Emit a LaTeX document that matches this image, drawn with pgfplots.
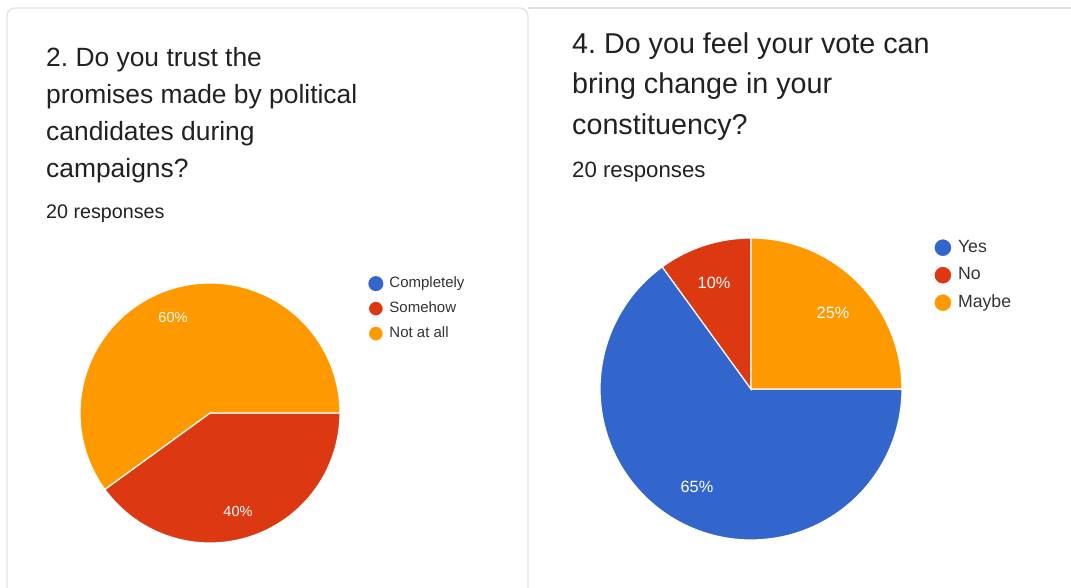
\documentclass[border=0pt]{standalone}
\usepackage{pgfplots}
\pgfplotsset{compat=1.18}
\usepackage{fontspec}
\setmainfont{Liberation Sans}
\frenchspacing
\definecolor{gblue}{HTML}{3366CC}
\definecolor{gred}{HTML}{DC3912}
\definecolor{gorange}{HTML}{FF9900}
\definecolor{txt}{HTML}{202124}
\definecolor{legtxt}{HTML}{333333}
\definecolor{bord}{HTML}{E2E2E2}
\begin{document}
\begin{tikzpicture}
\begin{scope}[x=1pt,y=-1pt]
\useasboundingbox (0,0) rectangle (1071,587);
\fill[white] (0,0) rectangle (1071,587);
\draw[bord, line width=1.2pt, rounded corners=8pt] (7,600) -- (7,8) -- (528,8) -- (528,600);
\draw[bord, line width=1.2pt] (528,8) -- (1071,8);
% left panel text
\node[anchor=base west, inner sep=0pt, text=txt, font=\fontsize{26.4}{30}\selectfont] at (46,66.5) {2. Do you trust the};
\node[anchor=base west, inner sep=0pt, text=txt, font=\fontsize{26.4}{30}\selectfont] at (46,103.5) {promises made by political};
\node[anchor=base west, inner sep=0pt, text=txt, font=\fontsize{26.4}{30}\selectfont] at (46,140.5) {candidates during};
\node[anchor=base west, inner sep=0pt, text=txt, font=\fontsize{26.4}{30}\selectfont] at (46,177.5) {campaigns?};
\node[anchor=base west, inner sep=0pt, text=txt, font=\fontsize{19.7}{23}\selectfont] at (46,218) {20 responses};
% right panel text
\node[anchor=base west, inner sep=0pt, text=txt, font=\fontsize{28.7}{34}\selectfont] at (572,53) {4. Do you feel your vote can};
\node[anchor=base west, inner sep=0pt, text=txt, font=\fontsize{28.7}{34}\selectfont] at (572,93) {bring change in your};
\node[anchor=base west, inner sep=0pt, text=txt, font=\fontsize{28.7}{34}\selectfont] at (572,134) {constituency?};
\node[anchor=base west, inner sep=0pt, text=txt, font=\fontsize{22.2}{26}\selectfont] at (572,177) {20 responses};
\end{scope}

% ---------- left pie: Completely 0, Somehow 40, Not at all 60 ----------
\begin{axis}[
  at={(210pt,-413pt)}, anchor=center,
  width=260pt, height=260pt, scale only axis,
  xmin=-1, xmax=1, ymin=-1, ymax=1,
  hide axis, clip=false,
  legend image code/.code={\fill[#1] (7.5pt,0pt) circle (7.5pt); \path (18pt,0pt);},
  legend style={draw=none, fill=none, at={(1.106,1.035)}, anchor=north west,
    inner sep=0pt, row sep=6pt, font=\fontsize{15}{18}\selectfont, text=legtxt,
    nodes={inner sep=2.5pt, text height=11pt, text depth=3pt}},
  legend cell align=left,
]
\addlegendimage{fill=gblue, draw=none}
\addlegendentry{Completely}
\addplot[fill=gred, draw=white, line width=1.2pt, domain=-3.6*40:0, samples=120] ({cos(x)},{sin(x)}) -- (axis cs:0,0) -- cycle;
\addlegendentry{Somehow}
\addplot[fill=gorange, draw=white, line width=1.2pt, domain=0:3.6*60, samples=150] ({cos(x)},{sin(x)}) -- (axis cs:0,0) -- cycle;
\addlegendentry{Not at all}
\node[text=white, font=\fontsize{14.5}{17}\selectfont] at (axis cs:-0.285,0.738) {60\%};
\node[text=white, font=\fontsize{14.5}{17}\selectfont] at (axis cs:0.215,-0.754) {40\%};
\end{axis}

% ---------- right pie: Yes 65, No 10, Maybe 25 ----------
\begin{axis}[
  at={(751pt,-389pt)}, anchor=center,
  width=302pt, height=302pt, scale only axis,
  xmin=-1, xmax=1, ymin=-1, ymax=1,
  hide axis, clip=false,
  legend image code/.code={\fill[#1] (9pt,0pt) circle (9pt); \path (21pt,0pt);},
  legend style={draw=none, fill=none, at={(1.103,1.005)}, anchor=north west,
    inner sep=0pt, row sep=5.5pt, font=\fontsize{17.7}{21}\selectfont, text=legtxt,
    nodes={inner sep=2.5pt, text height=13pt, text depth=4pt}},
  legend cell align=left,
]
\addplot[fill=gblue, draw=white, line width=1.2pt, domain=-3.6*65:0, samples=160] ({cos(x)},{sin(x)}) -- (axis cs:0,0) -- cycle;
\addlegendentry{Yes}
\addplot[fill=gred, draw=white, line width=1.2pt, domain=90:90+3.6*10, samples=40] ({cos(x)},{sin(x)}) -- (axis cs:0,0) -- cycle;
\addlegendentry{No}
\addplot[fill=gorange, draw=white, line width=1.2pt, domain=0:3.6*25, samples=80] ({cos(x)},{sin(x)}) -- (axis cs:0,0) -- cycle;
\addlegendentry{Maybe}
\node[text=white, font=\fontsize{16.3}{19}\selectfont] at (axis cs:-0.245,0.702) {10\%};
\node[text=white, font=\fontsize{16.3}{19}\selectfont] at (axis cs:0.543,0.503) {25\%};
\node[text=white, font=\fontsize{16.3}{19}\selectfont] at (axis cs:-0.358,-0.649) {65\%};
\end{axis}
\end{tikzpicture}
\end{document}
